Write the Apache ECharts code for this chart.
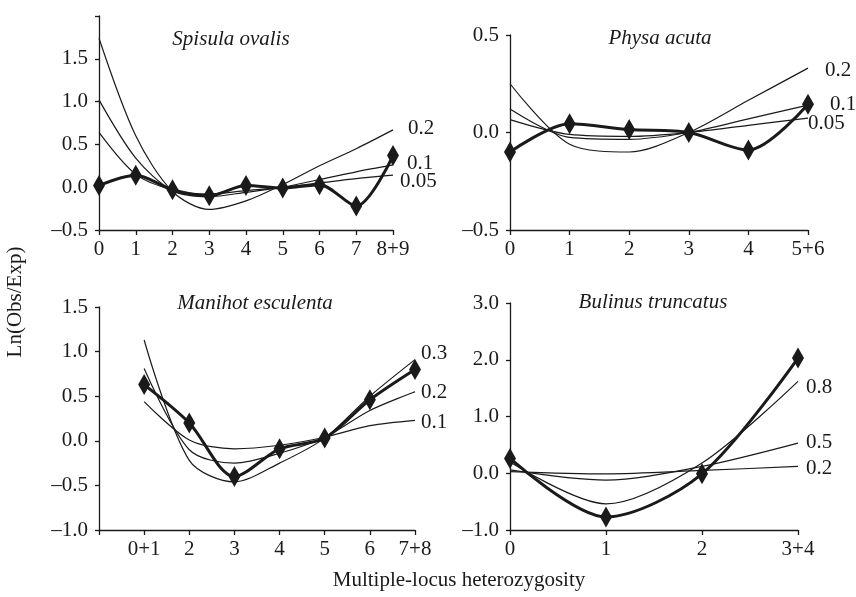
<!DOCTYPE html>
<html><head><meta charset="utf-8">
<script src="https://cdn.jsdelivr.net/npm/echarts@6/dist/echarts.min.js"></script>
<style>html,body{margin:0;padding:0;background:#fff}#c{width:856px;height:597px}</style>
</head><body><div id="c"></div><script>
// ---- data ----
const spisulaCats = ['0','1','2','3','4','5','6','7','8+9'];
const spisulaObs  = [0.02, 0.14, -0.03, -0.10, 0.02, -0.01, 0.03, -0.22, 0.37];
const spisula02   = [1.74, 0.60, -0.05, -0.26, -0.16, 0.03, 0.25, 0.45, 0.67];
const spisula01   = [1.02, 0.34, -0.04, -0.11, -0.06, 0.00, 0.09, 0.18, 0.26];
const spisula005  = [0.64, 0.15, -0.03, -0.08, -0.04, 0.00, 0.05, 0.10, 0.14];

const physaCats = ['0','1','2','3','4','5+6'];
const physaObs  = [-0.10, 0.045, 0.015, 0.00, -0.09, 0.145];
const physa02   = [0.25, -0.06, -0.10, 0.00, 0.165, 0.33];
const physa01   = [0.12, -0.025, -0.035, 0.00, 0.07, 0.14];
const physa005  = [0.066, -0.01, -0.02, 0.00, 0.037, 0.074];

const manihotCats = ['', '0+1','2','3','4','5','6','7+8'];
const manihotObs  = [null, 0.63, 0.20, -0.40, -0.09, 0.03, 0.46, 0.80];
const manihot03   = [null, 1.13, -0.22, -0.46, -0.25, 0.03, 0.50, 0.91];
const manihot02   = [null, 0.81, -0.10, -0.25, -0.14, 0.04, 0.34, 0.55];
const manihot01   = [null, 0.44, 0.01, -0.09, -0.05, 0.04, 0.17, 0.23];

const bulinusCats = ['0','1','2','3+4'];
const bulinusObs  = [0.26, -0.77, -0.01, 2.03];
const bulinus08   = [0.20, -0.54, 0.18, 1.62];
const bulinus05   = [0.06, -0.12, 0.12, 0.53];
const bulinus02   = [0.03, -0.01, 0.05, 0.12];

const panelTitles = ['Spisula ovalis', 'Physa acuta', 'Manihot esculenta', 'Bulinus truncatus'];
const yLimits = [[-0.5, 2, 0.5], [-0.5, 0.5, 0.5], [-1, 1.5, 0.5], [-1, 3, 1]];
const curveLabels = [['0.2','0.1','0.05'], ['0.2','0.1','0.05'], ['0.3','0.2','0.1'], ['0.8','0.5','0.2']];
const yTitle = 'Ln(Obs/Exp)';
const xTitle = 'Multiple-locus heterozygosity';

// ---- chart ----
const INK = '#1a1a1a';
const FONT = '"Liberation Serif", "DejaVu Serif", serif';
const FS = 21;
const fmt = v => (v < 0 ? '\u2013' : '') + Math.abs(v).toFixed(1);

const grids = [
  {left: 99, top: 16, width: 294, height: 214},
  {left: 510, top: 35, width: 298, height: 195},
  {left: 99, top: 307, width: 316, height: 223},
  {left: 510, top: 303, width: 288, height: 227}
];
const cats = [spisulaCats, physaCats, manihotCats, bulinusCats];

const xAxes = cats.map((c, i) => ({
  type: 'category', gridIndex: i, data: c, boundaryGap: false,
  axisLine: {onZero: false, lineStyle: {color: INK, width: 1.3}},
  axisTick: {show: true, length: 5, lineStyle: {color: INK, width: 1.3}, interval: 0},
  axisLabel: {color: INK, fontFamily: FONT, fontSize: FS, margin: 9, interval: 0}
}));
const yAxes = yLimits.map((l, i) => ({
  type: 'value', gridIndex: i, min: l[0], max: l[1], interval: l[2],
  splitLine: {show: false},
  axisLine: {show: true, onZero: false, lineStyle: {color: INK, width: 1.3}},
  axisTick: {show: true, length: 4, lineStyle: {color: INK, width: 1.3}},
  axisLabel: {color: INK, fontFamily: FONT, fontSize: FS, margin: 11,
    formatter: v => (i === 0 && v === 2) ? '' : fmt(v)}
}));

function model(i, d) {
  return {type: 'line', xAxisIndex: i, yAxisIndex: i, data: d, smooth: 0.3,
    symbol: 'none', lineStyle: {color: INK, width: 1.2}, z: 2, silent: true};
}
function obs(i, d) {
  return {type: 'line', xAxisIndex: i, yAxisIndex: i, data: d, smooth: 0.3,
    symbol: 'diamond', symbolSize: [12, 21], showSymbol: true,
    itemStyle: {color: INK}, lineStyle: {color: INK, width: 3}, z: 3, silent: true};
}

const series = [
  model(0, spisula02), model(0, spisula01), model(0, spisula005), obs(0, spisulaObs),
  model(1, physa02), model(1, physa01), model(1, physa005), obs(1, physaObs),
  model(2, manihot03), model(2, manihot02), model(2, manihot01), obs(2, manihotObs),
  model(3, bulinus08), model(3, bulinus05), model(3, bulinus02), obs(3, bulinusObs)
];

const txt = (x, y, t, extra) => ({type: 'text', x, y,
  style: Object.assign({text: t, fill: INK, font: FS + 'px ' + FONT, textVerticalAlign: 'middle'}, extra || {})});

const titlePos = [[231, 39], [660, 38], [255, 303], [653, 302]];
const labelPos = [
  [[408, 128], [407, 163], [400, 181]],
  [[825, 70], [830, 104], [808, 123]],
  [[421, 353], [421, 392], [421, 422]],
  [[806, 387], [806, 442], [806, 468]]
];

const graphic = [];
panelTitles.forEach((t, i) => graphic.push(txt(titlePos[i][0], titlePos[i][1], t,
  {textAlign: 'center', font: 'italic ' + FS + 'px ' + FONT})));
curveLabels.forEach((arr, i) => arr.forEach((t, j) =>
  graphic.push(txt(labelPos[i][j][0], labelPos[i][j][1], t, {textAlign: 'left'}))));
graphic.push({type: 'text', x: 15, y: 302, rotation: Math.PI / 2,
  style: {text: yTitle, fill: INK, font: FS + 'px ' + FONT, textAlign: 'center', textVerticalAlign: 'middle'}});
graphic.push(txt(459, 580, xTitle, {textAlign: 'center'}));

const chart = echarts.init(document.getElementById('c'), null, {renderer: 'canvas'});
chart.setOption({
  animation: false,
  backgroundColor: '#fff',
  grid: grids,
  xAxis: xAxes,
  yAxis: yAxes,
  series,
  graphic
});
</script></body></html>
